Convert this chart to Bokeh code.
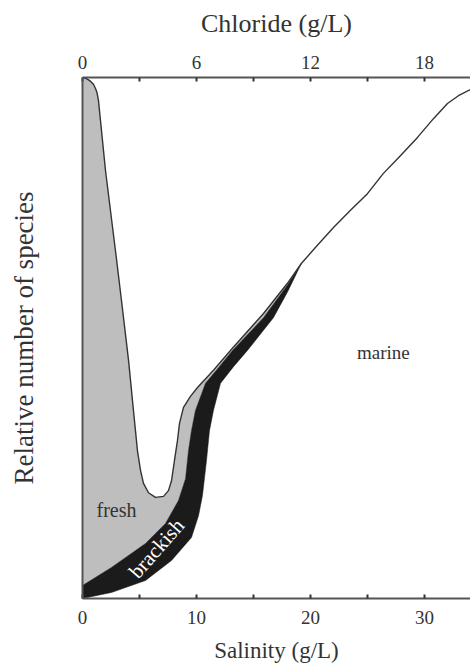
import numpy as np
from bokeh.plotting import figure
from bokeh.models import Range1d, LinearAxis, FixedTicker
from bokeh.embed import file_html
from bokeh.resources import INLINE
from bokeh.core.properties import value

# ---- data ----
# total number of species (upper outline)
total_sal = [0.0, 0.35, 0.70, 0.96, 1.14, 1.27, 1.40, 2.02, 2.89, 3.42, 4.04, 4.47, 4.82,
             5.09, 5.35, 5.79, 6.40, 7.11, 7.54, 7.81, 8.07, 8.33, 8.51, 8.86, 9.47,
             10.09, 11.49, 12.98, 15.88, 17.98, 19.20, 20.61, 22.02, 23.51, 25.00,
             26.40, 27.89, 29.39, 30.79, 32.02, 32.98, 34.04]
total_rel = [100.0, 99.8, 99.3, 98.7, 97.9, 97.1, 95.6, 82.1, 66.8, 57.2, 45.7, 36.1, 28.4,
             24.6, 22.1, 20.3, 19.4, 19.6, 20.7, 22.6, 26.5, 30.3, 33.6, 36.7, 38.8,
             40.5, 43.8, 47.6, 54.7, 60.5, 64.3, 67.8, 71.2, 74.5, 77.7,
             81.6, 85.0, 88.5, 92.1, 95.0, 96.5, 97.7]
# boundary between fresh (above) and brackish (below)
fb_sal = [0.0, 2.54, 5.53, 7.28, 8.42, 9.04, 9.30, 9.56, 9.91, 10.79, 11.93, 13.16,
          15.88, 18.00, 19.20]
fb_rel = [2.5, 5.95, 10.56, 14.4, 18.8, 23.0, 28.4, 32.2, 36.1, 41.3, 44.3, 47.6,
          53.9, 60.2, 64.3]
# boundary between brackish (above) and marine (below)
bm_sal = [0.0, 2.54, 5.53, 7.81, 9.56, 10.18, 10.53, 10.88, 11.14, 11.49, 12.11,
          13.25, 14.47, 16.75, 18.00, 19.20]
bm_rel = [0.0, 1.15, 3.45, 7.29, 11.7, 15.9, 19.8, 26.5, 32.2, 36.1, 41.3,
          44.5, 47.6, 53.9, 58.9, 64.3]

sal_ticks = [0, 10, 20, 30]
sal_minor = [5, 15, 25]
cl_ticks = [0, 6, 12, 18]
cl_minor = [3, 9, 15]
SAL_MAX = 34.04
CL_PER_SAL = 0.6

labels = {"fresh": (2.98, 16.9), "brackish": (6.5, 9.6), "marine": (26.4, 47.2)}

# ---- figure ----
FONT = "Liberation Serif"
p = figure(width=470, height=669, x_range=Range1d(0, SAL_MAX), y_range=Range1d(0, 100),
           output_backend="svg", toolbar_location=None,
           min_border_left=82, min_border_right=0, min_border_top=77, min_border_bottom=71)
p.grid.visible = False
p.outline_line_color = None
p.background_fill_color = "white"

ts = np.array(total_sal); tr = np.array(total_rel)
end = fb_sal[-1]
mask = ts <= end + 1e-9
# fresh (gray) area: left axis, total curve down to the junction, fresh/brackish boundary back
gx = [0.0] + list(ts[mask]) + list(fb_sal[::-1])
gy = [fb_rel[0]] + list(tr[mask]) + list(fb_rel[::-1])
p.patch(gx, gy, fill_color="#bebebe", line_color=None)
# brackish (black) band
bx = list(fb_sal) + list(bm_sal[::-1])
by = list(fb_rel) + list(bm_rel[::-1])
p.patch(bx, by, fill_color="#1b1b1b", line_color="#1b1b1b", line_width=0.5)
# outline of total species curve
p.line(total_sal, total_rel, line_color="#333333", line_width=1.4, line_join="round")

# texts
p.text(x=[labels["fresh"][0]], y=[labels["fresh"][1]], text=["fresh"],
       text_font=value(FONT), text_font_size="20px", text_color="#333333",
       text_align="center", text_baseline="middle")
p.text(x=[labels["marine"][0]], y=[labels["marine"][1]], text=["marine"],
       text_font=value(FONT), text_font_size="19px", text_color="#333333",
       text_align="center", text_baseline="middle")
p.text(x=[labels["brackish"][0]], y=[labels["brackish"][1]], text=["brackish"],
       text_font=value(FONT), text_font_size="21px", text_color="white",
       text_align="center", text_baseline="middle", angle=0.85)

# axes
def style(ax, tick_font="19px", label_font="23px"):
    ax.axis_line_color = "#555555"
    ax.axis_line_width = 2
    ax.major_tick_in = 4
    ax.major_tick_out = 0
    ax.minor_tick_in = 4
    ax.minor_tick_out = 0
    ax.major_tick_line_color = "#333333"
    ax.minor_tick_line_color = "#333333"
    ax.major_tick_line_width = 2
    ax.minor_tick_line_width = 2
    ax.major_label_text_font = FONT
    ax.major_label_text_font_size = tick_font
    ax.major_label_text_color = "#333333"
    ax.axis_label_text_font = FONT
    ax.axis_label_text_font_size = label_font
    ax.axis_label_text_font_style = "normal"
    ax.axis_label_text_color = "#333333"

bottom = p.xaxis[0]
bottom.ticker = FixedTicker(ticks=sal_ticks, minor_ticks=sal_minor)
bottom.axis_label = "Salinity (g/L)"
style(bottom, label_font="23px")
bottom.major_label_standoff = 12
bottom.axis_label_standoff = 11

p.extra_x_ranges = {"cl": Range1d(0, SAL_MAX * CL_PER_SAL)}
top = LinearAxis(x_range_name="cl", ticker=FixedTicker(ticks=cl_ticks, minor_ticks=cl_minor),
                 axis_label="Chloride (g/L)")
style(top, label_font="26px")
top.major_label_standoff = 9
top.axis_label_standoff = 15
p.add_layout(top, "above")

left = p.yaxis[0]
left.ticker = FixedTicker(ticks=[])
left.axis_label = "Relative number of species"
style(left, label_font="27px")
left.major_tick_line_color = None
left.minor_tick_line_color = None
left.axis_label_standoff = 44

open("out.html", "w").write(file_html(p, INLINE))
